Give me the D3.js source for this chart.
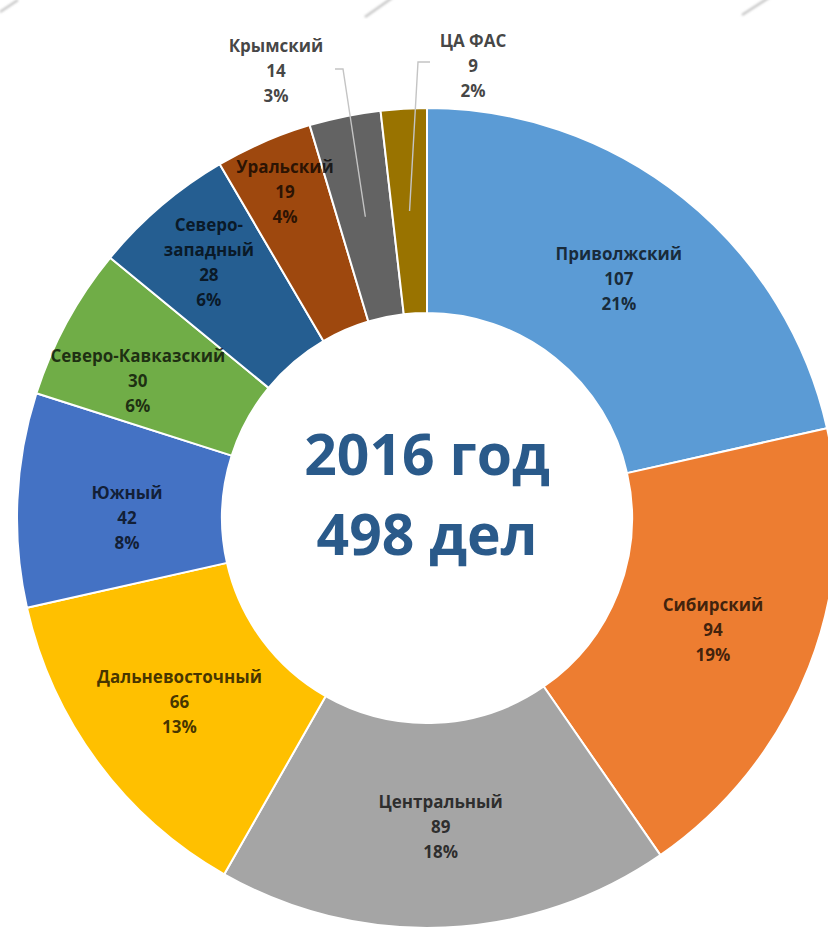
<!DOCTYPE html>
<html>
<head>
<meta charset="utf-8">
<script src="https://cdn.jsdelivr.net/npm/d3@7"></script>
<style>
  html, body { margin: 0; padding: 0; background: #ffffff; }
  svg { display: block; }
</style>
</head>
<body>
<svg id="chart" width="828" height="929"></svg>
<script>
// Cases by federal district, 2016 (clockwise from 12 o'clock)
const regions = ["Приволжский", "Сибирский", "Центральный", "Дальневосточный", "Южный",
                 "Северо-Кавказский", "Северо-западный", "Уральский", "Крымский", "ЦА ФАС"];
const cases = [107, 94, 89, 66, 42, 30, 28, 19, 14, 9];
const sliceColors = ["#5B9BD5", "#ED7D31", "#A5A5A5", "#FFC000", "#4472C4",
                     "#70AD47", "#255E91", "#9E480E", "#636363", "#997300"];
const centerLines = ["2016 год", "498 дел"];

// ---- layout ----
const W = 828, H = 929;
const cx = 427, cy = 518;
const outerR = 410, innerR = 205;
const lineGap = 25;

// how a long name is broken across lines inside its slice
const nameBreaks = { "Северо-западный": ["Северо-", "западный"] };
// radius at which each inside label is centred (small slices push it outward)
const labelRadius = { "Приволжский": 307, "Сибирский": 307, "Центральный": 309,
                      "Дальневосточный": 308, "Южный": 300, "Северо-Кавказский": 320,
                      "Северо-западный": 336, "Уральский": 356 };
// small angular shifts (degrees) for labels that sit off the slice bisector
const labelTurn = { "Южный": -2.5, "Северо-Кавказский": -3.2 };
// labels placed outside the ring with a leader line
const outsideLabels = {
  "Крымский": { x: 276, y: 70, elbow: [343, 69], tail: [335, 69] },
  "ЦА ФАС":   { x: 473, y: 65, elbow: [418, 62], tail: [430, 62] }
};

const svg = d3.select("#chart");
svg.append("rect").attr("width", W).attr("height", H).attr("fill", "#ffffff");

// faint decorative strokes along the top edge
const defs = svg.append("defs");
defs.append("filter").attr("id", "soft")
  .append("feGaussianBlur").attr("stdDeviation", 1.2);
const strokes = [[[0, 12], [18, 0]], [[365, 17], [392, -2]], [[742, 15], [770, -3]]];
svg.append("g").attr("filter", "url(#soft)")
  .selectAll("line").data(strokes).join("line")
  .attr("x1", d => d[0][0]).attr("y1", d => d[0][1])
  .attr("x2", d => d[1][0]).attr("y2", d => d[1][1])
  .attr("stroke", "#c8c8c8").attr("stroke-width", 2.5);

const total = d3.sum(cases);
const pct = d3.format(".0%");
const color = d3.scaleOrdinal().domain(regions).range(sliceColors);

const pie = d3.pie().sort(null).value(d => d.value);
const arcs = pie(regions.map((name, i) => ({ name, value: cases[i] })));

const arc = d3.arc().innerRadius(innerR).outerRadius(outerR);

const g = svg.append("g").attr("transform", `translate(${cx},${cy})`);

g.selectAll("path.slice").data(arcs).join("path")
  .attr("class", "slice")
  .attr("d", arc)
  .attr("fill", d => color(d.data.name))
  .attr("stroke", "#ffffff")
  .attr("stroke-width", 2)
  .attr("stroke-linejoin", "round");

// label text blocks
const labelFont = "'Open Sans', 'DejaVu Sans', sans-serif";
function drawBlock(x, y, lines) {
  const t = svg.append("text")
    .attr("font-family", labelFont)
    .attr("font-weight", 700)
    .attr("font-size", 17)
    .attr("text-anchor", "middle")
    .attr("fill", "#000000")
    .attr("fill-opacity", 0.74);
  const y0 = y - (lines.length - 1) / 2 * lineGap;
  lines.forEach((ln, i) => {
    t.append("tspan").attr("x", x).attr("y", y0 + i * lineGap)
      .attr("dominant-baseline", "central").text(ln);
  });
}

arcs.forEach(d => {
  const name = d.data.name;
  const lines = (nameBreaks[name] || [name]).concat([String(d.data.value), pct(d.data.value / total)]);
  const out = outsideLabels[name];
  if (out) {
    const c = arc.centroid(d);
    svg.append("polyline")
      .attr("points", [[cx + c[0], cy + c[1]], out.elbow, out.tail].map(p => p.join(",")).join(" "))
      .attr("fill", "none")
      .attr("stroke", "#c4c4c4")
      .attr("stroke-width", 1.4);
    drawBlock(out.x, out.y, lines);
  } else {
    const a = (d.startAngle + d.endAngle) / 2 + (labelTurn[name] || 0) * Math.PI / 180;
    const r = labelRadius[name] || (innerR + outerR) / 2;
    drawBlock(cx + r * Math.sin(a), cy - r * Math.cos(a), lines);
  }
});

// centre caption
const cap = svg.append("text")
  .attr("font-family", labelFont)
  .attr("font-weight", 700)
  .attr("font-size", 57)
  .attr("text-anchor", "middle")
  .attr("fill", "#2A5A8A");
centerLines.forEach((ln, i) => {
  cap.append("tspan").attr("x", cx).attr("y", 475 + i * 80).text(ln);
});
</script>
</body>
</html>
